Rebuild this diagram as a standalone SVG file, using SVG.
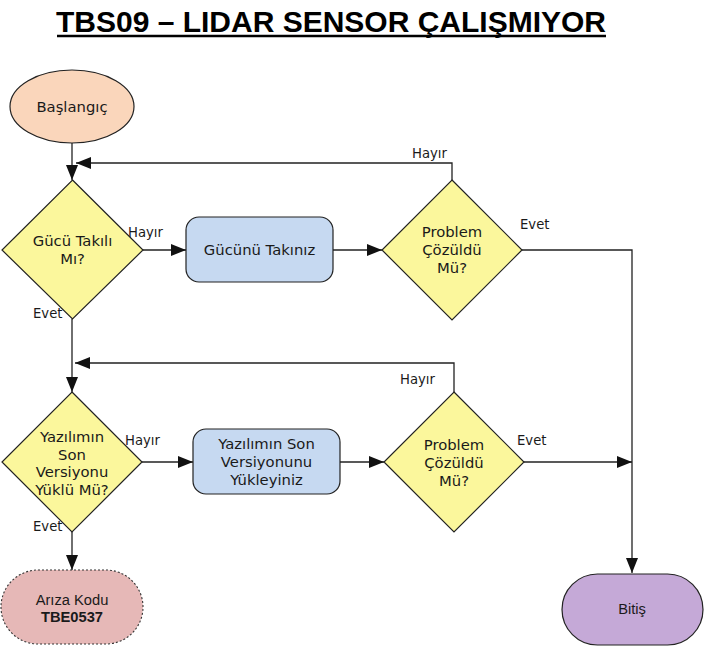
<svg xmlns="http://www.w3.org/2000/svg" width="704" height="646" viewBox="0 0 704 646">
<style>
.n{font-family:"DejaVu Sans",Verdana,sans-serif;font-size:14.8px;fill:#1a1a1a;text-anchor:middle}
.a{font-family:"Liberation Sans",Arial,sans-serif;font-size:14.7px;fill:#1a1a1a;text-anchor:middle}
.l{font-family:"DejaVu Sans",Verdana,sans-serif;font-size:13.2px;fill:#1a1a1a}
.s{stroke:#222;stroke-width:1.2}
.c{fill:none;stroke:#222;stroke-width:1.3}
.d{fill:#fbf79c}
</style>
<defs>
<marker id="ar" markerUnits="userSpaceOnUse" markerWidth="16" markerHeight="12" refX="15" refY="6" orient="auto">
<path d="M0,0 L15,6 L0,12 Z" fill="#111"/>
</marker>
</defs>
<g id="title">
<text x="331" y="32" font-family="'Liberation Sans',Arial,sans-serif" font-size="30" font-weight="bold" text-anchor="middle" fill="#000">TBS09 – LIDAR SENSOR ÇALIŞMIYOR</text>
<line x1="57" y1="36" x2="606" y2="36" stroke="#000" stroke-width="2.4"/>
</g>
<g id="connectors">
<path class="c" d="M72,143 V180" marker-end="url(#ar)"/>
<path class="c" d="M143,250 H186" marker-end="url(#ar)"/>
<path class="c" d="M333,250 H382" marker-end="url(#ar)"/>
<path class="c" d="M452,180 V163 H76" marker-end="url(#ar)"/>
<path class="c" d="M522,250 H632 V573" marker-end="url(#ar)"/>
<path class="c" d="M72,319 V392" marker-end="url(#ar)"/>
<path class="c" d="M142,462 H193" marker-end="url(#ar)"/>
<path class="c" d="M340,462 H384" marker-end="url(#ar)"/>
<path class="c" d="M454,392 V363 H75" marker-end="url(#ar)"/>
<path class="c" d="M524,462 H632" marker-end="url(#ar)"/>
<path class="c" d="M72,532 V570" marker-end="url(#ar)"/>
<text class="l" x="128" y="237">Hayır</text>
<text class="l" x="412" y="158">Hayır</text>
<text class="l" x="520" y="229">Evet</text>
<text class="l" x="33" y="318">Evet</text>
<text class="l" x="125" y="445">Hayır</text>
<text class="l" x="400" y="384">Hayır</text>
<text class="l" x="517" y="445">Evet</text>
<text class="l" x="33" y="531">Evet</text>
</g>
<g id="start">
<ellipse class="s" cx="72" cy="106.5" rx="62" ry="36.5" fill="#fad6bb"/>
<text class="n" x="72" y="111.5">Başlangıç</text>
</g>
<g id="d1">
<polygon class="s d" points="72.5,180 143,250 72.5,319 2,250"/>
<text class="n" x="72.5" y="246">Gücü Takılı</text>
<text class="n" x="72.5" y="264">Mı?</text>
</g>
<g id="r1">
<rect class="s" x="186" y="217" width="147" height="65" rx="13" fill="#c6d9f1"/>
<text class="n" x="259.5" y="255">Gücünü Takınız</text>
</g>
<g id="d2">
<polygon class="s d" points="452,180 522,250 452,320 382,250"/>
<text class="n" x="452" y="237">Problem</text>
<text class="n" x="452" y="255">Çözüldü</text>
<text class="n" x="452" y="273">Mü?</text>
</g>
<g id="d3">
<polygon class="s d" points="72,392 142,462 72,532 2,462"/>
<text class="n" x="72" y="442">Yazılımın</text>
<text class="n" x="72" y="459.5">Son</text>
<text class="n" x="72" y="477">Versiyonu</text>
<text class="n" x="72" y="494.5">Yüklü Mü?</text>
</g>
<g id="r2">
<rect class="s" x="193" y="429" width="147" height="65" rx="13" fill="#c6d9f1"/>
<text class="n" x="266.5" y="449">Yazılımın Son</text>
<text class="n" x="266.5" y="467">Versiyonunu</text>
<text class="n" x="266.5" y="485">Yükleyiniz</text>
</g>
<g id="d4">
<polygon class="s d" points="454,392 524,462 454,532 384,462"/>
<text class="n" x="454" y="450">Problem</text>
<text class="n" x="454" y="468">Çözüldü</text>
<text class="n" x="454" y="486">Mü?</text>
</g>
<g id="ariza">
<rect x="1" y="570" width="142" height="74" rx="37" fill="#e6b8b7" stroke="#333" stroke-width="1.1" stroke-dasharray="2,2"/>
<text class="a" x="72" y="605">Arıza Kodu</text>
<text class="a" x="72" y="622" font-weight="bold">TBE0537</text>
</g>
<g id="bitis">
<rect class="s" x="562" y="574" width="141" height="71" rx="35.5" fill="#c5a9d7"/>
<text class="a" x="632" y="614">Bitiş</text>
</g>
</svg>
